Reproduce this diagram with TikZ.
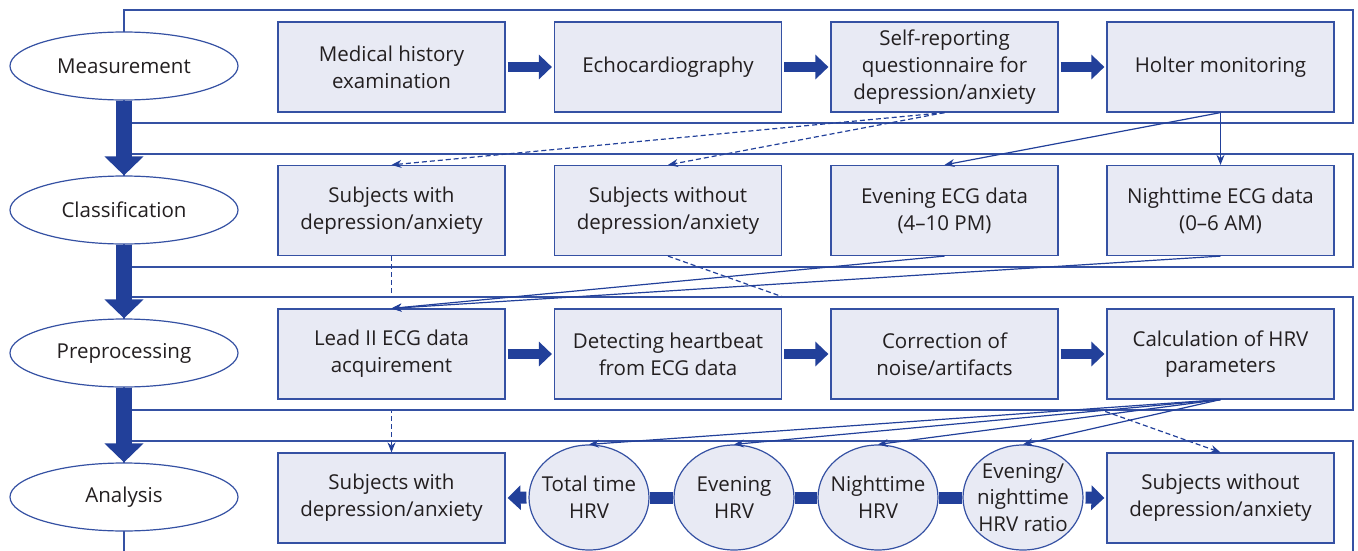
\documentclass[tikz,border=0pt]{standalone}
\usepackage{fontspec}
\setmainfont{Open Sans}
\usetikzlibrary{shapes.geometric,arrows.meta}

\definecolor{navy}{HTML}{22409A}
\definecolor{frameblue}{HTML}{3551A3}
\definecolor{boxfill}{HTML}{E8EAF4}
\definecolor{inkgray}{HTML}{231F20}
\newcommand\figfont{\fontsize{20.5}{26.7}\selectfont}

\tikzset{
  stage/.style={ellipse, draw=frameblue, fill=white, line width=1.2pt,
    minimum width=228pt, minimum height=68pt, inner sep=0pt,
    text=inkgray, font=\figfont},
  task/.style={rectangle, draw=frameblue, fill=boxfill, line width=1.2pt,
    minimum width=227pt, minimum height=90pt, inner sep=2pt, align=center,
    text=inkgray, font=\figfont},
  hrv/.style={ellipse, draw=frameblue, fill=boxfill, line width=1.2pt,
    minimum width=120pt, minimum height=105pt, inner sep=-8pt, align=center,
    text=inkgray, font=\figfont},
  band/.style={draw=frameblue, line width=1.2pt},
  flow/.style={navy, line width=10pt, shorten <=2pt, shorten >=2pt,
    -{Triangle[length=13pt,width=24pt]}},
  bigflow/.style={navy, line width=16pt, -{Triangle[length=19pt,width=38pt]}},
  bar/.style={navy, line width=12pt},
  link/.style={navy, line width=1.2pt, -{Stealth[length=10pt,width=8pt]}},
  optlink/.style={link, dash pattern=on 5pt off 3pt}
}

\begin{document}
\begin{tikzpicture}[x=1pt,y=-1pt]
  \clip (0,0) rectangle (1358,551);
  % stage frames
  \draw [band] (124,10) rectangle (1353,123);
  \draw [band] (124,154) rectangle (1353,267);
  \draw [band] (124,441) rectangle (1353,600);

  % measurement
  \node [task] (hist) at (391.5,67) {Medical history\\examination};
  \node [task] (echo) at (668,67) {Echocardiography};
  \node [task] (quest) at (944.5,67) {Self-reporting\\questionnaire for\\depression/anxiety};
  \node [task] (holter) at (1220.5,67) {Holter monitoring};

  % classification
  \node [task] (dep) at (391.5,210.5) {Subjects with\\depression/anxiety};
  \node [task] (nodep) at (668,210.5) {Subjects without\\depression/anxiety};
  \node [task] (eve) at (944.5,210.5) {Evening ECG data\\(4--10 PM)};
  \node [task] (night) at (1220.5,210.5) {Nighttime ECG data\\(0--6 AM)};

  % analysis
  \node [task] (depout) at (391.5,498) {Subjects with\\depression/anxiety};
  \node [hrv] (tothrv) at (589,497.5) {Total time\\HRV};
  \node [hrv] (evehrv) at (734,497.5) {Evening\\HRV};
  \node [hrv] (nighthrv) at (878,497.5) {Nighttime\\HRV};
  \node [hrv] (ratiohrv) at (1023,497.5) {Evening/\\nighttime\\HRV ratio};
  \node [task] (nodepout) at (1220.5,498) {Subjects without\\depression/anxiety};

  \draw [optlink] (dep.south) -- (depout.north);
  \draw [optlink] (nodep.south) -- (nodepout.north);

  % preprocessing (frame hides the group links)
  \draw [band, fill=white] (124,297) rectangle (1353,410);
  \node [task] (lead) at (391.5,354) {Lead II ECG data\\acquirement};
  \node [task] (beat) at (668,354) {Detecting heartbeat\\from ECG data};
  \node [task] (noise) at (944.5,354) {Correction of\\noise/artifacts};
  \node [task] (calc) at (1220.5,354) {Calculation of HRV\\parameters};

  % flows inside rows
  \draw [flow] (hist) -- (echo);
  \draw [flow] (echo) -- (quest);
  \draw [flow] (quest) -- (holter);
  \draw [flow] (lead) -- (beat);
  \draw [flow] (beat) -- (noise);
  \draw [flow] (noise) -- (calc);
  \draw [flow, line width=12pt] (tothrv.west) -- (depout.east);
  \draw [bar] (tothrv.east) -- (evehrv.west);
  \draw [bar] (evehrv.east) -- (nighthrv.west);
  \draw [bar] (nighthrv.east) -- (ratiohrv.west);
  \draw [flow, line width=12pt] (ratiohrv.east) -- (nodepout.west);

  % links between rows
  \draw [optlink] (quest.south) -- (dep.north);
  \draw [optlink] (quest.south) -- (nodep.north);
  \draw [link] (holter.south) -- (eve.north);
  \draw [link] (holter.south) -- (night.north);
  \draw [link] (eve.south) -- (lead.north);
  \draw [link] (night.south) -- (lead.north);
  \draw [link] (calc.south) -- (tothrv.north);
  \draw [link] (calc.south) -- (evehrv.north);
  \draw [link] (calc.south) -- (nighthrv.north);
  \draw [link] (calc.south) -- (ratiohrv.north);

  % stages
  \node [stage] (meas) at (124,66) {Measurement};
  \node [stage] (clas) at (124,210) {Classification};
  \node [stage] (prep) at (124,353) {Preprocessing};
  \node [stage] (anal) at (124,497) {Analysis};
  \draw [bigflow] (meas.south) -- (clas.north);
  \draw [bigflow] (clas.south) -- (prep.north);
  \draw [bigflow] (prep.south) -- (anal.north);
\end{tikzpicture}
\end{document}
